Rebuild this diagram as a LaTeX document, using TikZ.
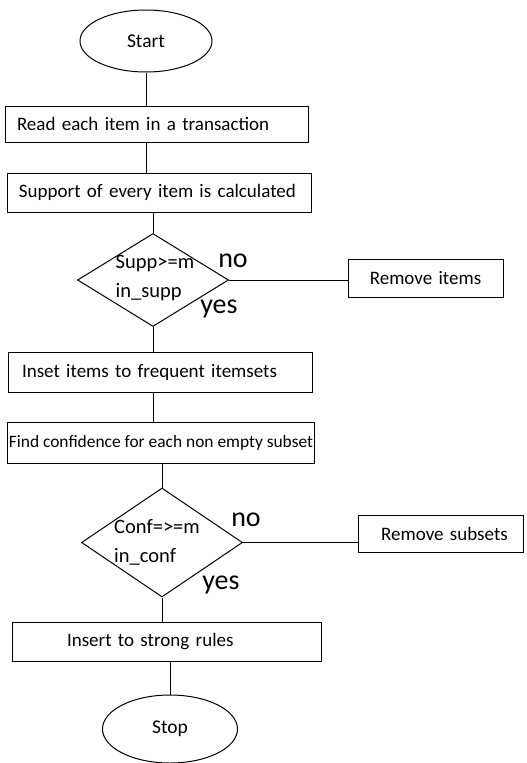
\documentclass[tikz,border=0pt]{standalone}
\usepackage{fontspec}
\setmainfont{Carlito}
\usepackage{tikz}
\usetikzlibrary{shapes.geometric}

\begin{document}
\begin{tikzpicture}[
      x=1pt, y=-1pt,
      line width=1pt,
      myoval/.style={draw,ellipse,font=\fontsize{19.5}{22}\selectfont},
      myrect/.style={draw,rectangle,inner xsep=12pt,inner ysep=0pt,align=left,
                     font=\fontsize{19}{22}\selectfont},
      mydiam/.style={draw,diamond,inner sep=0pt},
      mytext/.style={align=left,font=\fontsize{20.5}{29}\selectfont},
      myans/.style={font=\fontsize{28}{30}\selectfont}
      ]
      \useasboundingbox (0,0) rectangle (527,763);

      \node[myoval, minimum width=132pt, minimum height=62pt] (st) at (146,41) {Start};
      \node[myrect, text width=279pt, minimum height=36pt] (r1) at (156.5,124) {Read each item in a transaction};
      \node[myrect, text width=280pt, minimum height=39pt] (r2) at (159,192.5) {Support of every item is calculated};
      \node[mydiam, minimum width=151pt, minimum height=93pt] (d1) at (153,280) {};
      \node[mytext] (t1) at (155,278) {Supp>=m\\in\_supp};
      \node[myrect, align=center, text width=131pt, minimum height=38pt] (x1) at (425.5,278) {Remove items};
      \node[myrect, text width=280pt, minimum height=40pt] (r3) at (160,372) {\hspace*{2pt}Inset items to frequent itemsets};
      \node[myrect, inner xsep=1pt, minimum width=306pt, minimum height=41pt,
            font=\fontsize{17.4}{20}\selectfont] (r4) at (161,442.5) {Find confidence for each non empty subset};
      \node[mydiam, minimum width=161pt, minimum height=109pt] (d2) at (162,542.5) {};
      \node[mytext] (t2) at (157,542) {Conf=>=m\\in\_conf};
      \node[myrect, align=center, text width=141pt, minimum height=37pt] (x2) at (440.5,533.5) {\hspace*{8pt}Remove subsets};
      \node[myrect, text width=285pt, minimum height=39pt] (r5) at (166.5,641.5) {\hspace*{43pt}Insert to strong rules};
      \node[myoval, minimum width=135pt, minimum height=68pt] (sp) at (170,729) {Stop};

      \node[myans] (n1) at (233,261) {no};
      \node[myans] (y1) at (219,309) {yes};
      \node[myans] (n2) at (246,520) {no};
      \node[myans] (y2) at (221,585) {yes};

      \path (st.south) edge (st.south |- r1.north)
      (st.south |- r1.south) edge (st.south |- r2.north)
      (d1.north |- r2.south) edge (d1.north)
      (d1.south) edge (d1.south |- r3.north)
      (d1.south |- r3.south) edge (d1.south |- r4.north)
      (d2.north |- r4.south) edge (d2.north)
      (d2.south) edge (d2.south |- r5.north)
      (sp.north |- r5.south) edge (sp.north)
      ;
      \path (d1.east) edge (d1.east -| x1.west);
      \path (d2.east) edge (d2.east -| x2.west);

    \end{tikzpicture}
\end{document}
